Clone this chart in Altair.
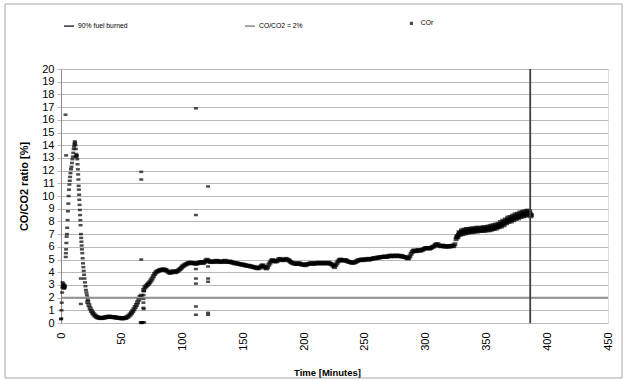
import altair as alt
import pandas as pd

# ---- data -------------------------------------------------------------
LINE_SERIES = ["90% fuel burned", "CO/CO2 = 2%"]
LINE_COLORS = ["#404040", "#909090"]
POINT_SERIES = ["COr"]
POINT_COLORS = ["#000000"]

FUEL_90_TIME = 386          # minute at which 90 % of the fuel is burned
CO_LIMIT = 2                # CO/CO2 reference level [%]

X_TICKS = [0, 50, 100, 150, 200, 250, 300, 350, 400, 450]
Y_TICKS = [0, 1, 2, 3, 4, 5, 6, 7, 8, 9, 10, 11, 12, 13, 14, 15, 16, 17, 18,
           19, 20]

# start-up transient and isolated readings [min], [%]
SPIKE_TIME = [
    0.0, 0.2, 0.4, 0.6, 0.9, 1.1, 1.3, 1.5, 1.7, 1.9, 2.1, 2.3, 2.5, 2.7, 2.9,
    3.1, 3.3, 3.7, 4.2,
    3.9, 4.0, 4.2, 4.4, 4.6, 4.9, 5.1, 5.4, 5.7, 6.0, 6.3, 6.6, 6.9, 7.2, 7.5,
    7.8, 8.2, 8.6, 9.0, 9.4, 9.8, 10.1, 10.4, 10.7, 11.0, 11.3, 11.6, 11.9,
    12.2, 12.5, 12.1, 12.8, 13.1, 13.4,
    13.6, 13.9, 14.1, 14.3, 14.5, 14.7, 14.9, 15.1, 15.3, 15.5, 15.7, 15.9,
    16.1, 16.4, 16.6, 16.8, 17.0, 17.2, 17.5, 17.8, 18.1, 18.4, 18.7, 19.0,
    19.3, 19.7, 20.1, 20.5, 20.9, 21.3, 21.7, 22.1,
    16.3, 16.3,
    65.6, 66.0, 66.4, 66.8, 67.2, 68.4, 66.0, 66.0, 66.0,
    67.8, 67.8, 67.8, 68.0, 68.2, 67.9,
    111.0, 111.0, 111.0, 111.0, 111.0, 111.0, 111.0,
    121.0, 121.0, 121.0, 121.0, 121.0, 121.0,
]
SPIKE_VALUE = [
    0.3, 0.35, 1.0, 1.6, 2.4, 2.8, 3.2, 3.0, 2.9, 3.1, 2.8, 2.9, 2.7, 2.8, 3.0,
    2.8, 2.9, 16.4, 13.2,
    5.2, 5.5, 5.8, 6.3, 6.8, 7.0, 7.5, 8.1, 8.8, 9.4, 10.0, 10.5, 10.9, 11.2,
    11.5, 11.8, 12.1, 12.3, 12.6, 12.9, 13.1, 13.4, 13.7, 13.9, 14.1, 14.3,
    14.2, 14.0, 13.7, 13.3, 13.1, 13.1, 13.2, 12.9,
    12.5, 12.1, 11.7, 11.3, 10.8, 10.5, 10.1, 9.7, 9.3, 8.9, 8.5, 8.1, 7.7,
    7.0, 6.7, 6.4, 6.1, 5.8, 5.5, 5.1, 4.7, 4.4, 4.1, 3.8, 3.5, 3.2, 2.9,
    2.6, 2.4, 2.2, 2.0, 1.8,
    3.5, 1.5,
    0.05, 0.0, 0.05, 0.05, 0.05, 0.05, 11.9, 11.3, 5.0,
    1.9, 1.6, 1.2, 1.1, 2.5, 2.2,
    16.9, 8.5, 4.25, 3.5, 3.1, 1.3, 0.65,
    10.75, 4.45, 3.5, 3.25, 0.8, 0.65,
]

# continuous one-minute COr readings [min], [%]
COR_TIME = [22, 23, 24, 25, 26, 27, 28, 29, 30, 31, 32, 33, 34, 35, 36, 37,
            38, 39, 40, 41, 42, 43, 44, 45, 46, 47, 48, 49, 50, 51, 52, 53,
            54, 55, 56, 57, 58, 59, 60, 61, 62, 63, 64, 65, 66] + \
    list(range(68, 388))
COR_VALUE = [
    # 22 - 66
    1.65, 1.40, 1.15, 0.95, 0.80, 0.68, 0.58, 0.50, 0.45, 0.42,
    0.40, 0.38, 0.40, 0.42, 0.44, 0.45, 0.47, 0.50, 0.50, 0.48,
    0.46, 0.47, 0.45, 0.44, 0.42, 0.40, 0.40, 0.38, 0.37, 0.37,
    0.38, 0.40, 0.44, 0.50, 0.58, 0.68, 0.80, 0.93, 1.08, 1.25,
    1.42, 1.62, 1.85, 2.05, 2.15,
    # 68 - 77
    2.60, 2.80, 2.90, 3.00, 3.10, 3.20, 3.35, 3.50, 3.68, 3.85,
    # 78 - 87
    3.98, 4.05, 4.10, 4.15, 4.18, 4.20, 4.22, 4.20, 4.18, 4.12,
    # 88 - 97
    4.05, 3.98, 3.95, 4.00, 4.08, 4.05, 4.00, 4.05, 4.10, 4.18,
    # 98 - 107
    4.25, 4.35, 4.45, 4.52, 4.58, 4.63, 4.68, 4.72, 4.75, 4.74,
    # 108 - 117
    4.70, 4.72, 4.70, 4.66, 4.70, 4.72, 4.76, 4.80, 4.76, 4.72,
    # 118 - 127
    4.80, 4.90, 4.98, 4.92, 4.84, 4.80, 4.85, 4.85, 4.80, 4.85,
    # 128 - 137
    4.90, 4.85, 4.80, 4.85, 4.85, 4.80, 4.85, 4.90, 4.85, 4.80,
    # 138 - 147
    4.80, 4.85, 4.80, 4.75, 4.75, 4.70, 4.70, 4.70, 4.65, 4.65,
    # 148 - 157
    4.60, 4.60, 4.60, 4.55, 4.55, 4.50, 4.50, 4.50, 4.45, 4.45,
    # 158 - 167
    4.40, 4.40, 4.35, 4.35, 4.30, 4.35, 4.40, 4.50, 4.55, 4.45,
    # 168 - 177
    4.35, 4.30, 4.40, 4.60, 4.75, 4.90, 4.95, 4.90, 4.85, 4.85,
    # 178 - 187
    4.90, 5.00, 5.05, 5.00, 4.95, 4.95, 5.00, 5.05, 5.00, 4.95,
    # 188 - 197
    4.90, 4.80, 4.75, 4.70, 4.70, 4.65, 4.65, 4.70, 4.70, 4.65,
    # 198 - 207
    4.60, 4.60, 4.60, 4.55, 4.60, 4.65, 4.65, 4.70, 4.70, 4.70,
    # 208 - 217
    4.65, 4.70, 4.70, 4.70, 4.75, 4.70, 4.70, 4.70, 4.75, 4.70,
    # 218 - 227
    4.70, 4.70, 4.75, 4.70, 4.65, 4.60, 4.50, 4.40, 4.55, 4.70,
    # 228 - 237
    4.85, 4.95, 5.00, 4.95, 4.90, 4.95, 4.95, 4.90, 4.85, 4.80,
    # 238 - 247
    4.80, 4.75, 4.75, 4.75, 4.80, 4.85, 4.90, 4.95, 4.95, 5.00,
    # 248 - 257
    5.00, 4.95, 5.00, 5.00, 5.05, 5.00, 5.00, 5.05, 5.05, 5.10,
    # 258 - 267
    5.10, 5.10, 5.15, 5.15, 5.15, 5.20, 5.20, 5.20, 5.25, 5.20,
    # 268 - 277
    5.20, 5.25, 5.30, 5.25, 5.30, 5.30, 5.25, 5.30, 5.30, 5.30,
    # 278 - 287
    5.25, 5.30, 5.25, 5.25, 5.20, 5.20, 5.15, 5.10, 5.10, 5.25,
    # 288 - 297
    5.45, 5.60, 5.70, 5.70, 5.65, 5.70, 5.75, 5.70, 5.70, 5.75,
    # 298 - 307
    5.80, 5.85, 5.90, 5.90, 5.90, 5.85, 5.90, 5.95, 6.00, 6.05,
    # 308 - 317
    6.15, 6.20, 6.20, 6.10, 6.05, 6.05, 6.10, 6.05, 6.00, 6.05,
    # 318 - 327
    6.05, 6.00, 6.05, 6.05, 6.10, 6.05, 6.20, 6.60, 6.85, 6.95,
    # 328 - 337
    7.05, 7.10, 7.15, 7.20, 7.15, 7.20, 7.25, 7.20, 7.25, 7.30,
    # 338 - 347
    7.30, 7.25, 7.30, 7.35, 7.30, 7.35, 7.35, 7.30, 7.35, 7.40,
    # 348 - 357
    7.35, 7.40, 7.40, 7.45, 7.40, 7.45, 7.50, 7.50, 7.50, 7.55,
    # 358 - 367
    7.60, 7.55, 7.65, 7.70, 7.75, 7.80, 7.85, 7.90, 8.00, 8.05,
    # 368 - 377
    8.10, 8.10, 8.15, 8.20, 8.25, 8.30, 8.30, 8.35, 8.40, 8.45,
    # 378 - 387
    8.50, 8.50, 8.55, 8.60, 8.60, 8.65, 8.70, 8.65, 8.60, 8.50,
]

# extra half-minute readings in the noisier final phase [min], [%]
LATE_TIME = [
    325.5, 326.5, 327.5, 328.5, 329.5, 330.5, 331.5, 332.5, 333.5, 334.5,
    335.5, 336.5, 337.5, 338.5, 339.5, 340.5, 341.5, 342.5, 343.5, 344.5,
    345.5, 346.5, 347.5, 348.5, 349.5, 350.5, 351.5, 352.5, 353.5, 354.5,
    355.5, 356.5, 357.5, 358.5, 359.5, 360.5, 361.5, 362.5, 363.5, 364.5,
    365.5, 366.5, 367.5, 368.5, 369.5, 370.5, 371.5, 372.5, 373.5, 374.5,
    375.5, 376.5, 377.5, 378.5, 379.5, 380.5, 381.5, 382.5, 383.5, 384.5,
    385.5, 386.5,
]
LATE_VALUE = [
    6.75, 6.75, 7.15, 6.95, 7.30, 7.00, 7.35, 7.05, 7.40, 7.10,
    7.40, 7.15, 7.45, 7.15, 7.45, 7.20, 7.50, 7.20, 7.50, 7.25,
    7.50, 7.25, 7.55, 7.25, 7.55, 7.30, 7.60, 7.30, 7.65, 7.35,
    7.70, 7.40, 7.75, 7.45, 7.80, 7.55, 7.95, 7.60, 8.05, 7.70,
    8.15, 7.85, 8.30, 7.95, 8.35, 8.00, 8.45, 8.10, 8.55, 8.20,
    8.60, 8.25, 8.70, 8.35, 8.75, 8.40, 8.80, 8.45, 8.85, 8.50,
    8.80, 8.40,
]

# ---- frames -------------------------------------------------------------
cor_df = pd.concat([
    pd.DataFrame({"t": COR_TIME, "v": COR_VALUE}),
    pd.DataFrame({"t": LATE_TIME, "v": LATE_VALUE}),
], ignore_index=True)
cor_df["series"] = "COr"
spike_df = pd.DataFrame({"t": SPIKE_TIME, "v": SPIKE_VALUE, "series": "COr"})
fuel_df = pd.DataFrame({"t": [FUEL_90_TIME], "series": [LINE_SERIES[0]]})
limit_df = pd.DataFrame({"v": [CO_LIMIT], "series": [LINE_SERIES[1]]})

FONT = "Liberation Sans"

# legend for the two reference lines
line_legend = alt.Legend(
    title=None, orient="none", direction="horizontal", columns=2,
    legendX=2, legendY=-49, padding=0, columnPadding=113,
    symbolType="stroke", symbolSize=100, symbolStrokeWidth=1.6,
    labelFont=FONT, labelFontSize=6.8, labelColor="#000000", labelOffset=3,
)
line_color = alt.Color("series:N",
                       scale=alt.Scale(domain=LINE_SERIES, range=LINE_COLORS),
                       legend=line_legend)

# legend for the measured ratio
point_legend = alt.Legend(
    title=None, orient="none", direction="horizontal",
    legendX=347, legendY=-49, padding=0,
    symbolType="square", symbolSize=10, symbolStrokeWidth=0,
    labelFont=FONT, labelFontSize=6.8, labelColor="#000000", labelOffset=6,
)
point_fill = alt.Fill("series:N",
                      scale=alt.Scale(domain=POINT_SERIES, range=POINT_COLORS),
                      legend=point_legend)

# tickCount must be at least the number of explicit values, or Vega thins them
x_axis = alt.Axis(values=X_TICKS, tickCount=len(X_TICKS) + 2, labelAngle=270,
                  labelAlign="right", labelBaseline="middle", ticks=False,
                  domain=False, grid=False, labelPadding=9, labelFont=FONT,
                  labelFontSize=11, labelColor="#000000",
                  labelOverlap=False,
                  title="Time [Minutes]", titleFont=FONT, titleFontSize=9.5,
                  titleFontWeight="bold", titleColor="#000000",
                  titleX=266, titleY=49, titleBaseline="middle")
y_axis = alt.Axis(values=Y_TICKS, tickCount=len(Y_TICKS) + 4, grid=True,
                  gridColor="#b8b8b8", gridWidth=1.2, domainColor="#8c8c8c",
                  tickColor="#b8b8b8", tickSize=4, labelPadding=3,
                  labelFont=FONT, labelFontSize=11, labelColor="#000000",
                  labelOverlap=False,
                  title="CO/CO2 ratio [%]", titleFont=FONT,
                  titleFontSize=11, titleFontWeight="bold",
                  titleColor="#000000", titleAngle=270, titleX=-37,
                  titleY=117, titleAlign="center", titleBaseline="middle")

x_scale = alt.Scale(domain=[0, 450], nice=False)
y_scale = alt.Scale(domain=[0, 20], nice=False)

frame = alt.Chart(pd.DataFrame({"k": [0]})).mark_rect(
    fill="transparent", stroke="#a6a6a6", strokeWidth=1
).encode(x=alt.value(-56), x2=alt.value(561), y=alt.value(-65),
         y2=alt.value(309))

# the axes are declared once, on the continuous readings
cor = alt.Chart(cor_df).mark_tick(orient="horizontal", size=5,
                                  thickness=4).encode(
    x=alt.X("t:Q", scale=x_scale, axis=x_axis),
    y=alt.Y("v:Q", scale=y_scale, axis=y_axis),
    fill=point_fill,
)

spikes = alt.Chart(spike_df).mark_tick(orient="horizontal", size=4,
                                       thickness=2.5).encode(
    x=alt.X("t:Q", scale=x_scale),
    y=alt.Y("v:Q", scale=y_scale),
    fill=point_fill,
)

limit = alt.Chart(limit_df).mark_rule(strokeWidth=1.8).encode(
    y=alt.Y("v:Q", scale=y_scale),
    color=line_color,
)

fuel = alt.Chart(fuel_df).mark_rule(strokeWidth=1.8).encode(
    x=alt.X("t:Q", scale=x_scale),
    y=alt.datum(0), y2=alt.datum(20),
    color=line_color,
)

chart = alt.layer(frame, cor, spikes, limit, fuel).properties(
    width=547, height=254,
    padding={"left": 61, "top": 69, "right": 20, "bottom": 58},
    autosize=alt.AutoSizeParams(type="none"),
).configure_view(stroke=None).configure(background="#ffffff")

chart.save("out.html", embed_options={"renderer": "svg", "actions": False})
